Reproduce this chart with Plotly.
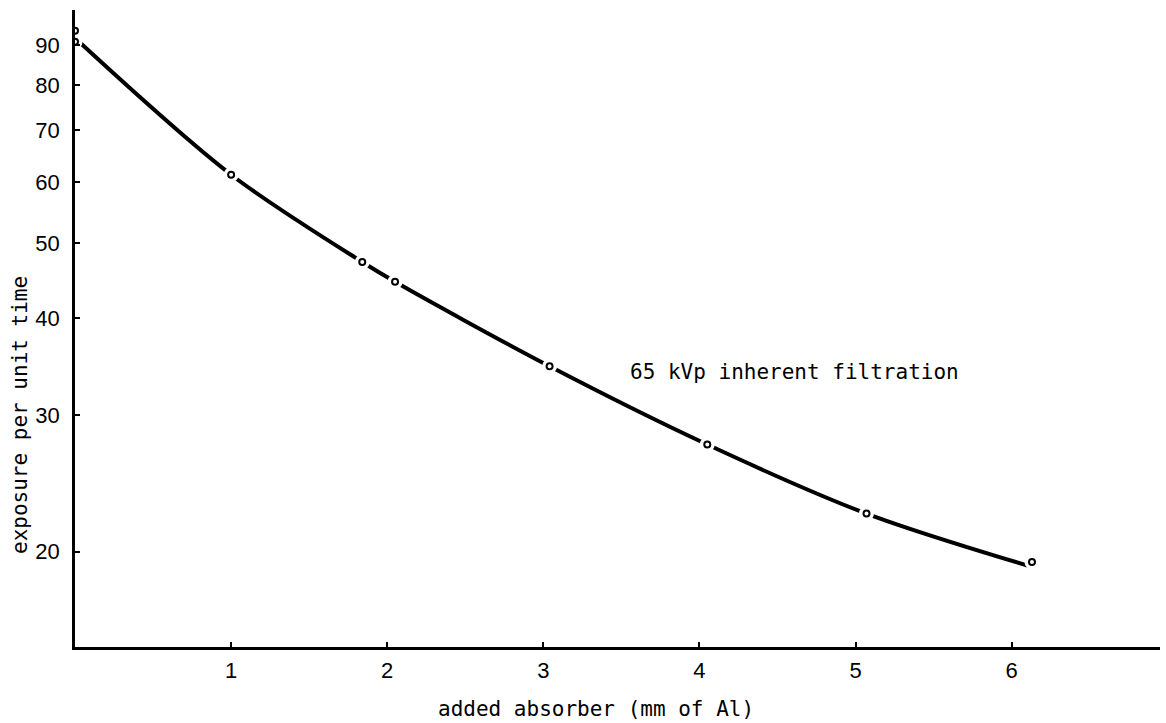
import numpy as np
import plotly.graph_objects as go

# measured points: added Al thickness (mm) vs exposure per unit time
pt_x = [0.0, 0.0, 1.0, 1.84, 2.05, 3.04, 4.05, 5.07, 6.13]
pt_y = [94.0, 91.0, 61.3, 47.3, 44.6, 34.7, 27.5, 22.4, 19.4]

# hand-drawn smooth curve through the measurements
curve_x = [0.0, 1.0, 1.84, 2.05, 3.04, 4.05, 5.07, 6.1]
curve_y = [92.0, 61.3, 47.3, 44.6, 34.7, 27.5, 22.4, 19.2]

x_ticks = [1, 2, 3, 4, 5, 6]
y_ticks = [20, 30, 40, 50, 60, 70, 80, 90]

mono = "DejaVu Sans Mono"

fig = go.Figure()

fig.add_trace(go.Scatter(
    x=curve_x, y=curve_y, mode="lines",
    line=dict(color="black", width=4, shape="spline", smoothing=0.9),
    hoverinfo="skip", showlegend=False,
))
# white halo so the curve breaks around each plotted point
fig.add_trace(go.Scatter(
    x=pt_x, y=pt_y, mode="markers",
    marker=dict(symbol="circle", size=15, color="white", line=dict(width=0)),
    hoverinfo="skip", showlegend=False,
))
fig.add_trace(go.Scatter(
    x=pt_x, y=pt_y, mode="markers",
    marker=dict(symbol="circle", size=6, color="white",
                line=dict(color="black", width=2)),
    showlegend=False,
))

fig.update_layout(
    width=1166, height=723,
    margin=dict(l=75, r=6, t=10, b=76),
    paper_bgcolor="white", plot_bgcolor="white",
    font=dict(family="Liberation Sans", color="black"),
)

# titles placed in pixel terms relative to the plot area
plot_w = 1166 - 75 - 6
plot_h = 723 - 10 - 76

fig.add_annotation(
    x=4.61, y=np.log10(34.1), xref="x", yref="y",
    text="65 kVp inherent filtration", showarrow=False,
    font=dict(family=mono, size=21, color="black"),
)
fig.add_annotation(
    x=(596 - 75) / plot_w, y=(723 - 76 - 709) / plot_h,
    xref="paper", yref="paper", text="added absorber (mm of Al)",
    showarrow=False, xanchor="center", yanchor="middle",
    font=dict(family=mono, size=21, color="black"),
)
fig.add_annotation(
    x=(20 - 75) / plot_w, y=(723 - 76 - 415) / plot_h,
    xref="paper", yref="paper", text="exposure per unit time",
    textangle=-90, showarrow=False, xanchor="center", yanchor="middle",
    font=dict(family=mono, size=21, color="black"),
)

fig.update_xaxes(
    range=[0, 6.95], showgrid=False, zeroline=False, automargin=False,
    showline=True, linecolor="black", linewidth=2.5,
    tickmode="array", tickvals=x_ticks, ticktext=[str(v) for v in x_ticks],
    ticks="inside", ticklen=5, tickwidth=2, tickcolor="black",
    tickfont=dict(family="Liberation Sans", size=22),
    ticklabelstandoff=2,
)
fig.update_yaxes(
    type="log", range=[np.log10(15.07), 2.0], showgrid=False, zeroline=False,
    automargin=False,
    showline=True, linecolor="black", linewidth=2.5,
    tickmode="array", tickvals=y_ticks, ticktext=[str(v) for v in y_ticks],
    ticks="inside", ticklen=5, tickwidth=2, tickcolor="black",
    tickfont=dict(family="Liberation Sans", size=22),
    ticklabelstandoff=8,
)

fig.write_html("out.html")
